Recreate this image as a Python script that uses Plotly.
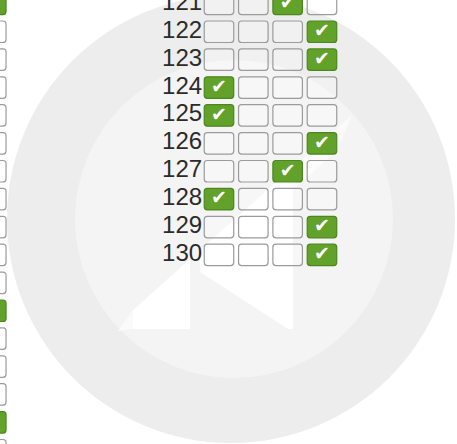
import plotly.graph_objects as go

# ---- data ----
options = ["A", "B", "C", "D"]
questions = [121, 122, 123, 124, 125, 126, 127, 128, 129, 130]
answers = ["C", "D", "D", "A", "A", "D", "C", "A", "D", "D"]
# previous column (only its last option column is visible at the left edge)
left_questions = list(range(91, 108))
left_answers = ["D", "-", "-", "-", "-", "-", "-", "-", "-", "-", "-", "D", "-", "-", "-", "D", "-"]

W, H = 457, 444
# axis geometry (option slots horizontally, question rows vertically)
X_RANGE = [-5.379, 7.933]
Y_RANGE = [136.776, 120.862]
LEFT_X_OFFSET = -9.633   # offset of the previous question column
LEFT_Y_OFFSET = 30       # previous column starts 30 questions earlier
HW, HH = 0.43, 0.385     # half box size in data units
RX, RY = 0.09, 0.11

GREEN = "#62a12a"
GREEN_EDGE = "#4b871d"
GREY_EDGE = "#9b9b9b"


def rrect(cx, cy):
    x0, x1 = cx - HW, cx + HW
    y0, y1 = cy - HH, cy + HH
    return (f"M {x0+RX},{y0} L {x1-RX},{y0} Q {x1},{y0} {x1},{y0+RY} "
            f"L {x1},{y1-RY} Q {x1},{y1} {x1-RX},{y1} L {x0+RX},{y1} "
            f"Q {x0},{y1} {x0},{y1-RY} L {x0},{y0+RY} Q {x0},{y0} {x0+RX},{y0} Z")


def px(x):
    return x / W


def py(y):
    return 1 - y / H


shapes = []
# ---- faint watermark ----
shapes.append(dict(type="circle", xref="paper", yref="paper", layer="below",
                   x0=px(7), x1=px(455), y0=py(443), y1=py(-5),
                   fillcolor="#ededed", line=dict(width=0)))
shapes.append(dict(type="circle", xref="paper", yref="paper", layer="below",
                   x0=px(75), x1=px(393), y0=py(378), y1=py(60),
                   fillcolor="#f4f4f4", line=dict(width=0)))


def poly(pts, color):
    d = "M " + " L ".join(f"{px(a)},{py(b)}" for a, b in pts) + " Z"
    return dict(type="path", xref="paper", yref="paper", layer="below",
                path=d, fillcolor=color, line=dict(width=0))


shapes.append(poly([(133, 329), (190, 329), (190, 259), (133, 310)], "#ffffff"))
shapes.append(poly([(200, 250), (293, 167), (293, 329), (288, 329), (200, 272)], "#ffffff"))
shapes.append(poly([(285, 175), (352, 115), (336, 152), (293, 190)], "#fbfbfb"))
shapes.append(poly([(118, 331), (133, 310), (133, 329)], "#fafafa"))

# ---- answer boxes ----
check_x, check_y = [], []
for q, a in zip(questions, answers):
    for i, o in enumerate(options):
        cx, cy = i + 1, q
        on = (o == a)
        shapes.append(dict(type="path", xref="x", yref="y", layer="below", path=rrect(cx, cy),
                           fillcolor=GREEN if on else "rgba(255,255,255,0.25)",
                           line=dict(color=GREEN_EDGE if on else GREY_EDGE, width=1.2)))
        if on:
            check_x.append(cx)
            check_y.append(cy)

for q, a in zip(left_questions, left_answers):
    cx = options.index("D") + 1 + LEFT_X_OFFSET
    cy = q + LEFT_Y_OFFSET
    on = (a == "D")
    shapes.append(dict(type="path", xref="x", yref="y", layer="below", path=rrect(cx, cy),
                       fillcolor=GREEN if on else "rgba(255,255,255,0.25)",
                       line=dict(color=GREEN_EDGE if on else GREY_EDGE, width=1.2)))

fig = go.Figure()
fig.add_trace(go.Scatter(
    x=[1 - HW - 0.06] * len(questions), y=questions,
    mode="text", text=[str(q) for q in questions], textposition="middle left",
    textfont=dict(family="Liberation Sans, Arial, sans-serif", size=24, color="#2b2b2b"),
    hoverinfo="skip", showlegend=False, cliponaxis=False))
fig.add_trace(go.Scatter(
    x=check_x, y=[c + 0.02 for c in check_y], mode="text", text=["✔"] * len(check_x),
    textposition="middle center",
    textfont=dict(family="DejaVu Sans", size=19, color="#ffffff"),
    hoverinfo="skip", showlegend=False, cliponaxis=False))

fig.update_layout(
    width=W, height=H, margin=dict(l=0, r=0, t=0, b=0),
    paper_bgcolor="#ffffff", plot_bgcolor="rgba(0,0,0,0)",
    xaxis=dict(range=X_RANGE, visible=False, fixedrange=True),
    yaxis=dict(range=Y_RANGE, visible=False, fixedrange=True),
    shapes=shapes, showlegend=False,
)
fig.write_html("out.html", config={"displayModeBar": False},
               post_script="document.body.style.margin='0px';document.body.style.overflow='hidden';")
